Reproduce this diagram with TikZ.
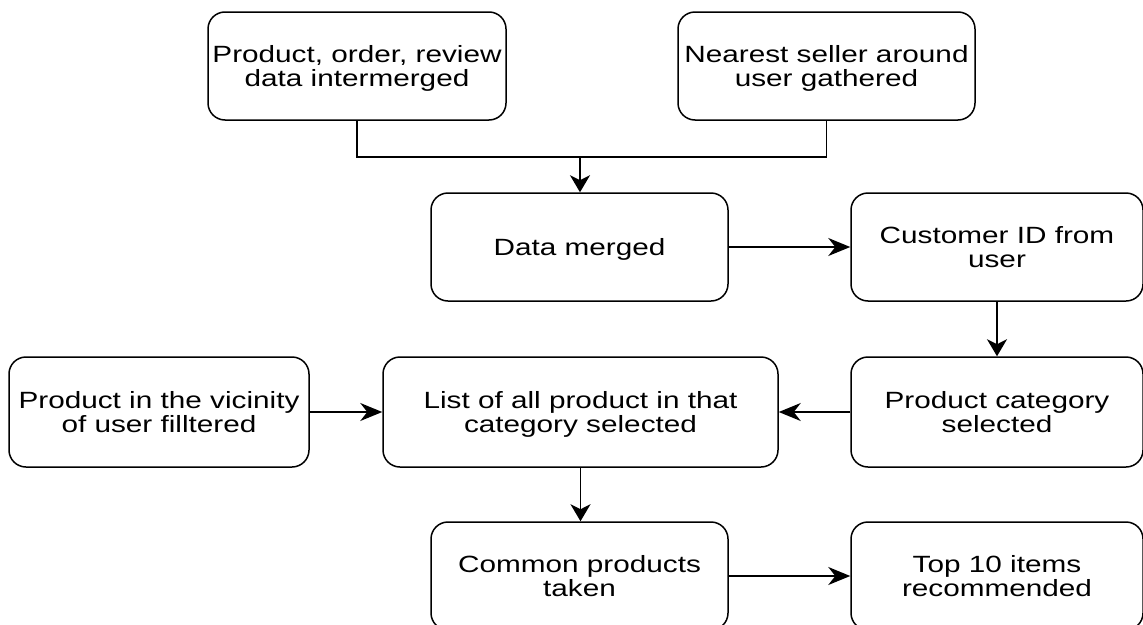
\documentclass[tikz,border=0pt]{standalone}
\usepackage{fontspec}
\setmainfont[FakeStretch=1.265]{Liberation Sans}
\usetikzlibrary{arrows.meta}
\begin{document}
\begin{tikzpicture}[x=1pt,y=-1pt,
  box/.style={draw=black, line width=1.5pt, rounded corners=17pt, fill=white,
    align=center, inner sep=0pt, minimum height=108pt, text depth=0pt,
    font=\fontsize{23.5}{24.5}\selectfont},
  conn/.style={draw=black, line width=1.5pt},
  varr/.style={conn, -{Stealth[length=17pt,width=20pt,inset=5pt]}},
  harr/.style={conn, -{Stealth[length=22pt,width=18pt,inset=7pt]}}]
\useasboundingbox (0,0) rectangle (1143,624);
\fill[white] (0,0) rectangle (1143,624);
\node[box, minimum width=298pt] (n1) at (357,66) {Product, order, review\\data intermerged};
\node[box, minimum width=297pt] (n2) at (826.5,66) {Nearest seller around\\user gathered};
\node[box, minimum width=297pt] (n3) at (579.5,247) {Data merged};
\node[box, minimum width=292pt] (n4) at (997,247) {Customer ID from\\user};
\node[box, minimum width=292pt, minimum height=110pt] (n5) at (997,412) {Product category\\selected};
\node[box, minimum width=395pt, minimum height=110pt] (n6) at (580.5,412) {List of all product in that\\category selected};
\node[box, minimum width=300pt, minimum height=110pt] (n7) at (159,412) {Product in the vicinity\\of user filltered};
\node[box, minimum width=297pt] (n8) at (579.5,576) {Common products\\taken};
\node[box, minimum width=292pt] (n9) at (997,576) {Top 10 items\\recommended};
\coordinate (j) at (580,157);
\draw[conn] (n1.south) -- (n1.south |- j) -- (n2.south |- j) -- (n2.south);
\draw[varr] (j) -- (j |- n3.north);
\draw[harr] (n3.east) -- (n4.west);
\draw[varr] (n4.south) -- (n5.north);
\draw[harr] (n5.west) -- (n6.east);
\draw[harr] (n7.east) -- (n6.west);
\draw[varr] (n6.south) -- (n6.south |- n8.north);
\draw[harr] (n8.east) -- (n9.west);
\end{tikzpicture}
\end{document}
